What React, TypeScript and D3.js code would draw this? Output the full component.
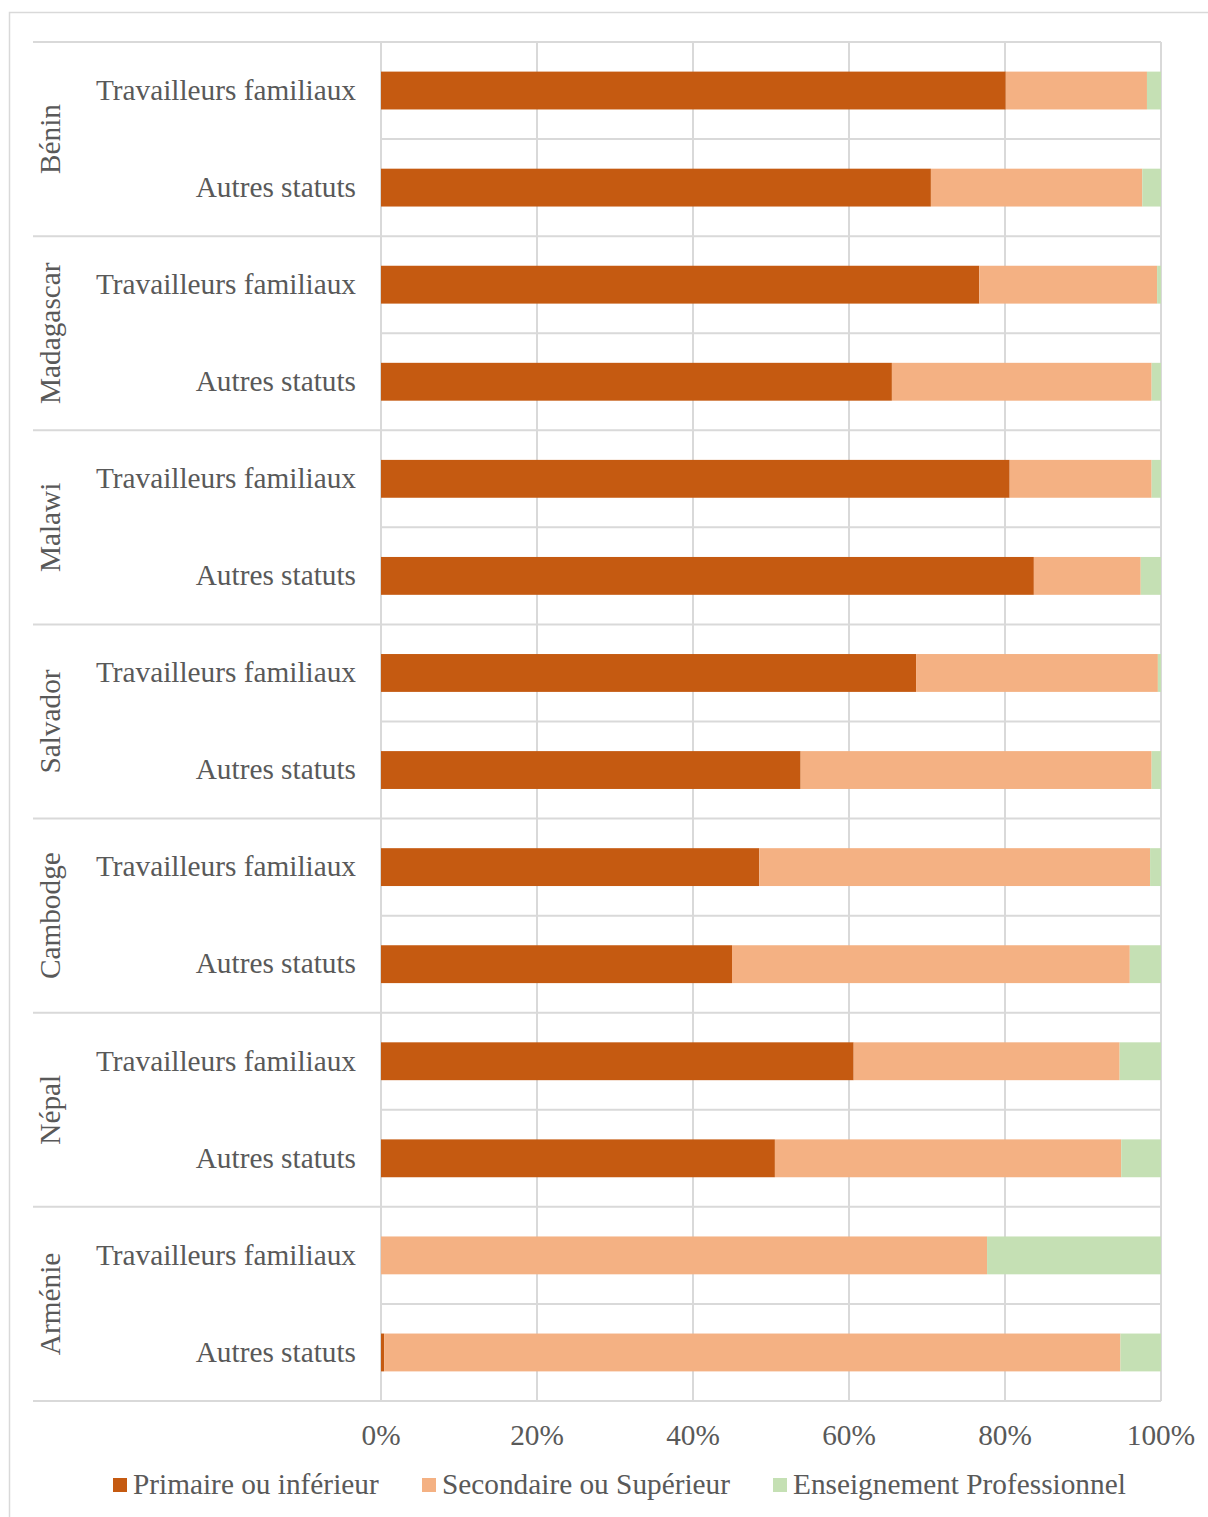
import React from "react";
import * as d3 from "d3";

const countries = ["Bénin", "Madagascar", "Malawi", "Salvador", "Cambodge", "Népal", "Arménie"];
const statuses = ["Travailleurs familiaux", "Autres statuts"];
const seriesNames = ["Primaire ou inférieur", "Secondaire ou Supérieur", "Enseignement Professionnel"];
const colors = ["#C55A11", "#F4B183", "#C5E0B4"];
// values in order: country x status
const primaire = [80.1, 70.5, 76.7, 65.5, 80.6, 83.7, 68.6, 53.8, 48.5, 45.0, 60.6, 50.5, 0, 0.4];
const secondaire = [18.1, 27.1, 22.8, 33.3, 18.2, 13.7, 31.0, 45.0, 50.1, 51.0, 34.1, 44.4, 77.7, 94.4];
const professionnel = [1.8, 2.4, 0.5, 1.2, 1.2, 2.6, 0.4, 1.2, 1.4, 4.0, 5.3, 5.1, 22.3, 5.2];
const ticks = [0, 20, 40, 60, 80, 100];

const W = 1208, H = 1517;
const left = 381, right = 1161, top = 42, bottom = 1401;
const font = "'Liberation Serif', 'Times New Roman', serif";
const textColor = "#595959";
const grid = "#D9D9D9";
const fs = 29.3;

export default function App() {
  const rows = countries.flatMap((c, i) => statuses.map((s, j) => ({ key: `${c}|${s}`, country: c, status: s, idx: i * 2 + j })));
  const x = d3.scaleLinear().domain([0, 100]).range([left, right]);
  const y = d3.scaleBand().domain(rows.map(r => r.key)).range([top, bottom]).paddingInner(0).paddingOuter(0);
  const bh = y.bandwidth() * 0.39;
  const data = rows.map(r => ({ key: r.key, p: primaire[r.idx], s: secondaire[r.idx], e: professionnel[r.idx] }));
  const stack = d3.stack<any>().keys(["p", "s", "e"])(data);
  const groupH = y.bandwidth() * 2;

  return (
    <svg width={W} height={H} style={{ position: "absolute", left: 0, top: 0, background: "#fff" }} fontFamily={font}>
      <rect x={9.5} y={12.5} width={1230} height={1540} fill="#fff" stroke={grid} strokeWidth={1.5} />
      {rows.map((r, i) => i % 2 === 1 ? (
        <line key={"rg" + i} x1={left} x2={right} y1={y(r.key)!} y2={y(r.key)!} stroke={grid} strokeWidth={2} />
      ) : null)}
      {d3.range(countries.length + 1).map(i => (
        <line key={"gs" + i} x1={33} x2={right} y1={top + i * groupH} y2={top + i * groupH} stroke={grid} strokeWidth={2} />
      ))}
      {ticks.map(t => (
        <line key={"v" + t} x1={x(t)} x2={x(t)} y1={top} y2={bottom} stroke={grid} strokeWidth={2} />
      ))}
      {stack.map((layer, li) => (
        <g key={"l" + li} fill={colors[li]}>
          {layer.map((d, di) => {
            const w = x(d[1]) - x(d[0]);
            if (w <= 0) return null;
            return <rect key={di} x={x(d[0])} width={w} y={y(data[di].key)! + (y.bandwidth() - bh) / 2} height={bh} />;
          })}
        </g>
      ))}
      {rows.map(r => (
        <text key={"sl" + r.key} x={356} y={y(r.key)! + y.bandwidth() / 2 - 1} dy="0.35em" textAnchor="end" fontSize={fs} fill={textColor}>{r.status}</text>
      ))}
      {countries.map((c, i) => {
        const cy = top + i * groupH + groupH / 2;
        return <text key={"c" + c} transform={`translate(50,${cy}) rotate(-90)`} textAnchor="middle" dy="0.35em" fontSize={fs} fill={textColor}>{c}</text>;
      })}
      {ticks.map(t => (
        <text key={"t" + t} x={x(t)} y={1435} dy="0.35em" textAnchor="middle" fontSize={fs} fill={textColor}>{t}%</text>
      ))}
      {seriesNames.map((n, i) => {
        const lx = [113, 422, 773][i];
        return (
          <g key={"lg" + i}>
            <rect x={lx} y={1478} width={14} height={14} fill={colors[i]} />
            <text x={lx + 20} y={1484} dy="0.35em" fontSize={fs} fill={textColor}>{n}</text>
          </g>
        );
      })}
    </svg>
  );
}
